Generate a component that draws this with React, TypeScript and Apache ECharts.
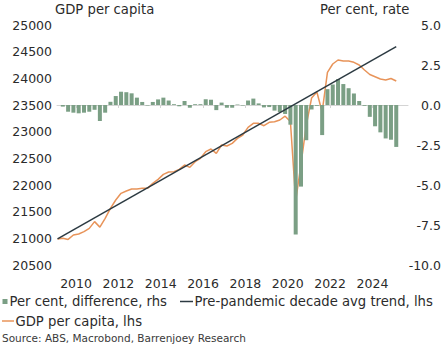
import React, { useEffect, useRef } from "react";
import * as echarts from "echarts";

// Quarterly data, GDP per capita starts 2009Q1, difference bars start 2009Q2
const gdpStartYear = 2009;
const gdpStartQuarter = 1;
const gdpPerCapita = [
  20987, 21000, 20980, 21062, 21081, 21125, 21187, 21313, 21210, 21375,
  21562, 21719, 21844, 21887, 21925, 21925, 21937, 21937, 22031, 22106,
  22200, 22244, 22250, 22294, 22375, 22331, 22437, 22500, 22625, 22675,
  22594, 22750, 22731, 22781, 22875, 22937, 23081, 23156, 23156, 23112,
  23175, 23187, 23219, 23290, 23190, 21700, 22390, 23120, 23630, 23745,
  23370, 24110, 24269, 24344, 24325, 24325, 24300, 24250, 24156, 24072,
  24030, 23987, 23969, 23997, 23950,
];

const diffStartYear = 2009;
const diffStartQuarter = 2;
const diffPct = [
  -0.1, -0.42, -0.48, -0.52, -0.48, -0.42, -0.3, -1.0, -0.48, 0.2,
  0.56, 0.83, 0.8, 0.73, 0.46, 0.19, -0.03, 0.19, 0.35, 0.46,
  0.28, 0.05, -0.08, 0.25, -0.17, 0.05, 0.05, 0.36, 0.33, -0.32,
  0.15, -0.17, -0.17, 0.03, -0.03, 0.28, 0.4, 0.1, -0.15, -0.13,
  -0.35, -0.44, -0.56, -1.23, -8.1, -5.1, -2.2, -0.28, -0.05, -1.88,
  0.99, 1.28, 1.62, 1.31, 1.05, 0.72, 0.25, -0.05, -0.74, -1.33,
  -1.71, -2.09, -2.17, -2.62,
];

// Pre-pandemic decade average trend: straight line, endpoints [year, quarter, value]
const trendPoints: [number, number, number][] = [
  [2009, 1, 20990],
  [2025, 1, 24595],
];

const xTickYears = [2010, 2012, 2014, 2016, 2018, 2020, 2022, 2024];

const leftTitle = "GDP per capita";
const rightTitle = "Per cent, rate";
const legendBar = "Per cent, difference, rhs";
const legendTrend = "Pre-pandemic decade avg trend, lhs";
const legendGdp = "GDP per capita, lhs";
const sourceText = "Source: ABS, Macrobond, Barrenjoey Research";

const BAR_COLOR = "#7b9f85";
const GDP_COLOR = "#e8945a";
const TREND_COLOR = "#2c3a42";
const TEXT_COLOR = "#2b2b2b";
const FONT = "DejaVu Sans";
const LEG_FONT = `13.2px "${FONT}"`;

const qPos = (year: number, q: number) => year + (q - 1) * 0.25 + 0.125;

export default function App() {
  const ref = useRef<HTMLDivElement>(null);

  useEffect(() => {
    if (!ref.current) return;
    const chart = echarts.init(ref.current, undefined, { renderer: "svg" });

    const gdpData = gdpPerCapita.map((v, i) => [
      qPos(gdpStartYear, gdpStartQuarter + i),
      v,
    ]);
    const diffData = diffPct.map((v, i) => [
      qPos(diffStartYear, diffStartQuarter + i),
      v,
    ]);
    const trendData = trendPoints.map(([y, q, v]) => [qPos(y, q), v]);

    chart.setOption({
      animation: false,
      textStyle: { fontFamily: FONT },
      grid: { left: 57, right: 37, top: 25, bottom: 87, containLabel: false },
      xAxis: {
        type: "value",
        min: 2009.1,
        max: 2025.68,
        offset: 8,
        axisLine: { show: true, lineStyle: { color: "#d4d4d4", width: 1 } },
        axisTick: {
          show: true,
          customValues: xTickYears,
          length: 3,
          lineStyle: { color: "#d4d4d4" },
        },
        axisLabel: {
          customValues: xTickYears,
          formatter: (v: number) => String(Math.round(v)),
          color: TEXT_COLOR,
          fontSize: 12.5,
          fontFamily: FONT,
          margin: 4,
        },
        splitLine: { show: false },
      },
      yAxis: [
        {
          type: "value",
          min: 20500,
          max: 25000,
          interval: 500,
          position: "left",
          axisLine: { show: false },
          axisTick: { show: false },
          splitLine: { show: false },
          axisLabel: {
            formatter: (v: number) => String(v),
            color: TEXT_COLOR,
            fontSize: 12.5,
            fontFamily: FONT,
            margin: 5,
          },
        },
        {
          type: "value",
          min: -10,
          max: 5,
          interval: 2.5,
          position: "right",
          axisLine: { show: false },
          axisTick: { show: false },
          splitLine: { show: false },
          axisLabel: {
            formatter: (v: number) => v.toFixed(1),
            color: TEXT_COLOR,
            fontSize: 12.5,
            fontFamily: FONT,
            align: "right",
            margin: 33,
          },
        },
      ],
      series: [
        {
          name: legendGdp,
          type: "line",
          yAxisIndex: 0,
          data: gdpData,
          showSymbol: false,
          symbol: "none",
          z: 1,
          lineStyle: { color: GDP_COLOR, width: 1.5 },
        },
        {
          name: legendBar,
          type: "bar",
          yAxisIndex: 1,
          data: diffData,
          barWidth: 4,
          z: 2,
          itemStyle: { color: BAR_COLOR },
        },
        {
          name: legendTrend,
          type: "line",
          yAxisIndex: 0,
          data: trendData,
          showSymbol: false,
          symbol: "none",
          z: 3,
          lineStyle: { color: TREND_COLOR, width: 1.5 },
        },
      ],
      graphic: [
        {
          type: "text",
          x: 55,
          y: 9.5,
          style: { text: leftTitle, fill: TEXT_COLOR, font: LEG_FONT, verticalAlign: "middle" },
        },
        {
          type: "text",
          x: 320,
          y: 9.5,
          style: { text: rightTitle, fill: TEXT_COLOR, font: LEG_FONT, verticalAlign: "middle" },
        },
        {
          type: "rect",
          shape: { x: 2.5, y: 299, width: 5, height: 5 },
          style: { fill: BAR_COLOR },
        },
        {
          type: "text",
          x: 9.5,
          y: 301.5,
          style: { text: legendBar, fill: TEXT_COLOR, font: LEG_FONT, verticalAlign: "middle" },
        },
        {
          type: "line",
          shape: { x1: 180, y1: 301.5, x2: 193, y2: 301.5 },
          style: { stroke: TREND_COLOR, lineWidth: 1.5 },
        },
        {
          type: "text",
          x: 194.5,
          y: 301.5,
          style: { text: legendTrend, fill: TEXT_COLOR, font: LEG_FONT, verticalAlign: "middle" },
        },
        {
          type: "line",
          shape: { x1: 2, y1: 321, x2: 14, y2: 321 },
          style: { stroke: GDP_COLOR, lineWidth: 1.5 },
        },
        {
          type: "text",
          x: 15.5,
          y: 321,
          style: { text: legendGdp, fill: TEXT_COLOR, font: LEG_FONT, verticalAlign: "middle" },
        },
        {
          type: "text",
          x: 2,
          y: 338,
          style: {
            text: sourceText,
            fill: "#3a3a3a",
            font: `10.5px "${FONT}"`,
            verticalAlign: "middle",
          },
        },
      ],
    });

    return () => chart.dispose();
  }, []);

  return (
    <div
      ref={ref}
      style={{ position: "absolute", left: 0, top: 0, width: 445, height: 352 }}
    />
  );
}
